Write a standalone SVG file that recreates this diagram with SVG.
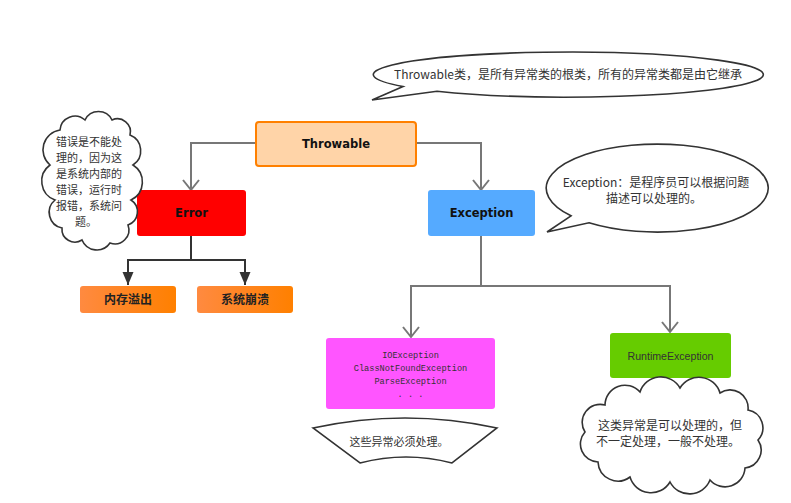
<svg xmlns="http://www.w3.org/2000/svg" width="791" height="503" viewBox="0 0 791 503">
<defs>
<style>
.conn{fill:none;stroke:#777;stroke-width:2}
.conn2{fill:none;stroke:#333;stroke-width:2}
.note{fill:#fff;stroke:#333;stroke-width:1.6}
.bold{font-family:"DejaVu Sans",sans-serif;font-weight:bold;font-size:11.5px;fill:#111;text-anchor:middle}
.cjkb{font-family:"Noto Sans CJK SC",sans-serif;font-weight:bold;font-size:12px;fill:#222;text-anchor:middle}
.cjk{font-family:"Noto Sans CJK SC",sans-serif;font-size:12px;fill:#333;text-anchor:middle}
.cjks{font-family:"Noto Sans CJK SC",sans-serif;font-size:11px;fill:#333;text-anchor:middle}
.mono{font-family:"Liberation Mono",monospace;font-size:8.6px;fill:#333;text-anchor:middle}
</style>
<marker id="open" markerUnits="userSpaceOnUse" markerWidth="22" markerHeight="22" viewBox="0 0 22 22" refX="19" refY="11" orient="auto">
<path d="M9,3 L19,11 L9,19" fill="none" stroke="#777" stroke-width="2"/>
</marker>
<marker id="solid" markerUnits="userSpaceOnUse" markerWidth="16" markerHeight="14" viewBox="0 0 16 14" refX="14" refY="7" orient="auto">
<path d="M1,1.5 L14,7 L1,12.5 Z" fill="#333"/>
</marker>
<linearGradient id="og" x1="0" y1="0" x2="1" y2="0">
<stop offset="0" stop-color="#FF8A40"/>
<stop offset="1" stop-color="#FF8000"/>
</linearGradient>
</defs>
<rect width="791" height="503" fill="#fff"/>

<g id="connectors">
<path class="conn" d="M256,143 H191 V190" marker-end="url(#open)"/>
<path class="conn" d="M416,143 H481 V190" marker-end="url(#open)"/>
<path class="conn2" d="M191,236 V260 H128 V285" marker-end="url(#solid)"/>
<path class="conn2" d="M191,260 H245 V285" marker-end="url(#solid)"/>
<path class="conn" d="M481,236 V286 H411 V337" marker-end="url(#open)"/>
<path class="conn" d="M481,286 H670 V332" marker-end="url(#open)"/>
</g>

<g id="throwable">
<rect x="256" y="122" width="160" height="44" rx="3" fill="#FFD4A8" stroke="#FF8000" stroke-width="2"/>
<text class="bold" x="336" y="148">Throwable</text>
</g>

<g id="error">
<rect x="137" y="190" width="109" height="46" rx="3" fill="#FF0000"/>
<text class="bold" x="191.5" y="217">Error</text>
</g>

<g id="exception">
<rect x="428" y="190" width="107" height="46" rx="3" fill="#55AAFF"/>
<text class="bold" x="481.5" y="217">Exception</text>
</g>

<g id="oom">
<rect x="80" y="286" width="96" height="27" rx="3" fill="url(#og)"/>
<text class="cjkb" x="128" y="304">内存溢出</text>
</g>

<g id="crash">
<rect x="197" y="286" width="96" height="27" rx="3" fill="url(#og)"/>
<text class="cjkb" x="245" y="304">系统崩溃</text>
</g>

<g id="checked">
<rect x="326" y="338" width="169" height="71" rx="3" fill="#FF55FF"/>
<text class="mono" x="410.5" y="358">IOException</text>
<text class="mono" x="410.5" y="371">ClassNotFoundException</text>
<text class="mono" x="410.5" y="384">ParseException</text>
<text class="mono" x="410.5" y="397">. . .</text>
</g>

<g id="runtime">
<rect x="610" y="333" width="121" height="45" rx="3" fill="#66CC00"/>
<text x="670.5" y="360" style="font-family:'Liberation Sans',sans-serif;font-size:10.6px;fill:#333;text-anchor:middle">RuntimeException</text>
</g>

<g id="note-throwable">
<path class="note" d="M437,91.2 A195,22.5 0 1 0 403,86.5 L372,100 Z"/>
<text class="cjk" x="568" y="79">Throwable类，是所有异常类的根类，所有的异常类都是由它继承</text>
</g>

<g id="note-exception">
<path class="note" d="M589,222.8 A111,44 0 1 0 571,215.8 L547,232 Z"/>
<text class="cjk" x="656" y="187">Exception：是程序员可以根据问题</text>
<text class="cjk" x="654" y="203">描述可以处理的。</text>
</g>

<g id="note-error">
<path class="note" d="M60,130 A15,15 0 0 1 85,120 A15,15 0 0 1 112,120 A13,13 0 0 1 130,135 A17,17 0 0 1 133,165 A20,20 0 0 1 131,200 A14,14 0 0 1 128,225 A14,14 0 0 1 110,243 A16,16 0 0 1 82,240 A13,13 0 0 1 62,228 A16,16 0 0 1 55,200 A20,20 0 0 1 50,165 A20,20 0 0 1 60,130 Z"/>
<text class="cjks" x="89" y="146">错误是不能处</text>
<text class="cjks" x="89" y="162">理的，因为这</text>
<text class="cjks" x="89" y="178">是系统内部的</text>
<text class="cjks" x="89" y="194">错误，运行时</text>
<text class="cjks" x="89" y="210">报错，系统问</text>
<text class="cjks" x="86" y="226">题。</text>
</g>

<g id="note-checked">
<path class="note" d="M313,428 Q405,408 497,428 L452,463 Q406,451 360,463 Z"/>
<text x="399" y="446" style="font-family:'Noto Sans CJK SC',sans-serif;font-size:11px;fill:#333;text-anchor:middle">这些异常必须处理。</text>
</g>

<g id="note-runtime">
<path class="note" d="M605,405 A20,20 0 0 1 640,392 A22,22 0 0 1 680,388 A22,22 0 0 1 720,393 A18,18 0 0 1 748,410 A18,18 0 0 1 758,440 A18,18 0 0 1 745,468 A20,20 0 0 1 710,480 A22,22 0 0 1 670,482 A22,22 0 0 1 630,477 A20,20 0 0 1 598,462 A18,18 0 0 1 585,432 A18,18 0 0 1 605,405 Z"/>
<text class="cjk" x="670" y="430">这类异常是可以处理的，但</text>
<text class="cjk" x="668" y="446">不一定处理，一般不处理。</text>
</g>
</svg>
